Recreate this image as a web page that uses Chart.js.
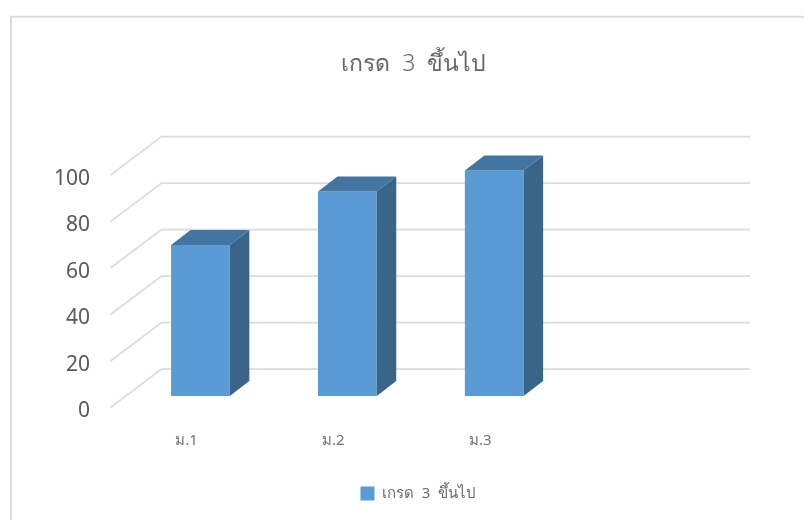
<!DOCTYPE html>
<html>
<head>
<meta charset="utf-8">
<script src="https://cdn.jsdelivr.net/npm/chart.js@4"></script>
<style>
  html,body{margin:0;padding:0;background:#fff;}
  #wrap{position:absolute;left:0;top:0;width:804px;height:520px;}
  canvas{display:block;}
</style>
</head>
<body>
<div id="wrap"><canvas id="chart" width="804" height="520"></canvas></div>
<script>
const categories = ['ม.1', 'ม.2', 'ม.3', ''];
const seriesName = 'เกรด  3  ขึ้นไป';
const seriesValues = [65, 88, 97, null];
const yTicks = [0, 20, 40, 60, 80, 100];

const FONT = '"Noto Sans", "Open Sans", sans-serif';
const wallDx = 51, wallDy = -38.5;
const barDx = 19.5, barDy = -15;
const gridColor = '#dcdcdc';

const frame3d = {
  id: 'frame3d',
  afterLayout(chart){
    // title and legend sit off centre in the original
    const t = chart.titleBlock, l = chart.legend;
    t.left += 36.5; t.right += 36.5;
    l.left += 41; l.right += 41;
    l.top -= 9; l.bottom -= 9;
  },
  beforeDraw(chart){
    const {ctx} = chart;
    ctx.save();
    ctx.strokeStyle = gridColor;
    ctx.lineWidth = 2;
    ctx.beginPath();
    ctx.moveTo(11, 520); ctx.lineTo(11, 16.7); ctx.lineTo(804, 16.7);
    ctx.stroke();
    ctx.restore();
  },
  beforeDatasetsDraw(chart){
    const {ctx, scales:{y}} = chart;
    const frontX = 110.5, backX = frontX + wallDx, rightX = 750;
    ctx.save();
    ctx.strokeStyle = gridColor;
    ctx.lineWidth = 1.75;
    yTicks.forEach(v=>{
      const py = y.getPixelForValue(v) + 11.5;
      ctx.beginPath();
      ctx.moveTo(frontX, py);
      ctx.lineTo(backX, py + wallDy);
      ctx.lineTo(rightX, py + wallDy);
      ctx.stroke();
    });
    ctx.restore();
  },
  afterDatasetsDraw(chart){
    const {ctx} = chart;
    const meta = chart.getDatasetMeta(0);
    ctx.save();
    meta.data.forEach((bar,i)=>{
      if(seriesValues[i] == null) return;
      const p = bar.getProps(['x','y','base','width'], true);
      const l = p.x - p.width/2, r = p.x + p.width/2;
      ctx.fillStyle = '#4375a3';
      ctx.beginPath();
      ctx.moveTo(l, p.y);
      ctx.lineTo(l + barDx, p.y + barDy);
      ctx.lineTo(r + barDx, p.y + barDy);
      ctx.lineTo(r, p.y);
      ctx.closePath();
      ctx.fill();
      ctx.fillStyle = '#3a6488';
      ctx.beginPath();
      ctx.moveTo(r, p.y);
      ctx.lineTo(r + barDx, p.y + barDy);
      ctx.lineTo(r + barDx, p.base + barDy);
      ctx.lineTo(r, p.base);
      ctx.closePath();
      ctx.fill();
    });
    ctx.restore();
  }
};

new Chart(document.getElementById('chart').getContext('2d'), {
  type: 'bar',
  data: {
    labels: categories,
    datasets: [{
      label: seriesName,
      data: seriesValues,
      backgroundColor: '#5b9bd5',
      borderWidth: 0,
      barPercentage: 0.4,
      categoryPercentage: 1
    }]
  },
  options: {
    responsive: false,
    animation: false,
    devicePixelRatio: 1,
    layout: {padding: {left: 40, right: 89.4, top: 0, bottom: 0}},
    scales: {
      x: {
        grid: {display: false, drawTicks: false},
        border: {display: false},
        afterFit(s){ s.height = 89; },
        ticks: {color: '#737373', font: {family: FONT, size: 15}, padding: 35.5, labelOffset: -14, maxRotation: 0}
      },
      y: {
        min: 0, max: 100,
        afterFit(s){ s.width = 87; },
        afterBuildTicks(s){ s.ticks = yTicks.map(v=>({value:v})); },
        grid: {display: false, drawTicks: false},
        border: {display: false},
        ticks: {color: '#595959', font: {family: FONT, size: 21}, padding: 37, labelOffset: 15}
      }
    },
    plugins: {
      title: {display: true, text: seriesName, color: '#666666', font: {family: FONT, size: 23, weight: 300}, padding: {top: 51, bottom: 85}},
      legend: {position: 'bottom', labels: {boxWidth: 14, boxHeight: 14, color: '#6b6b6b', font: {family: FONT, size: 15}}},
      tooltip: {enabled: false}
    }
  },
  plugins: [frame3d]
});
</script>
</body>
</html>
